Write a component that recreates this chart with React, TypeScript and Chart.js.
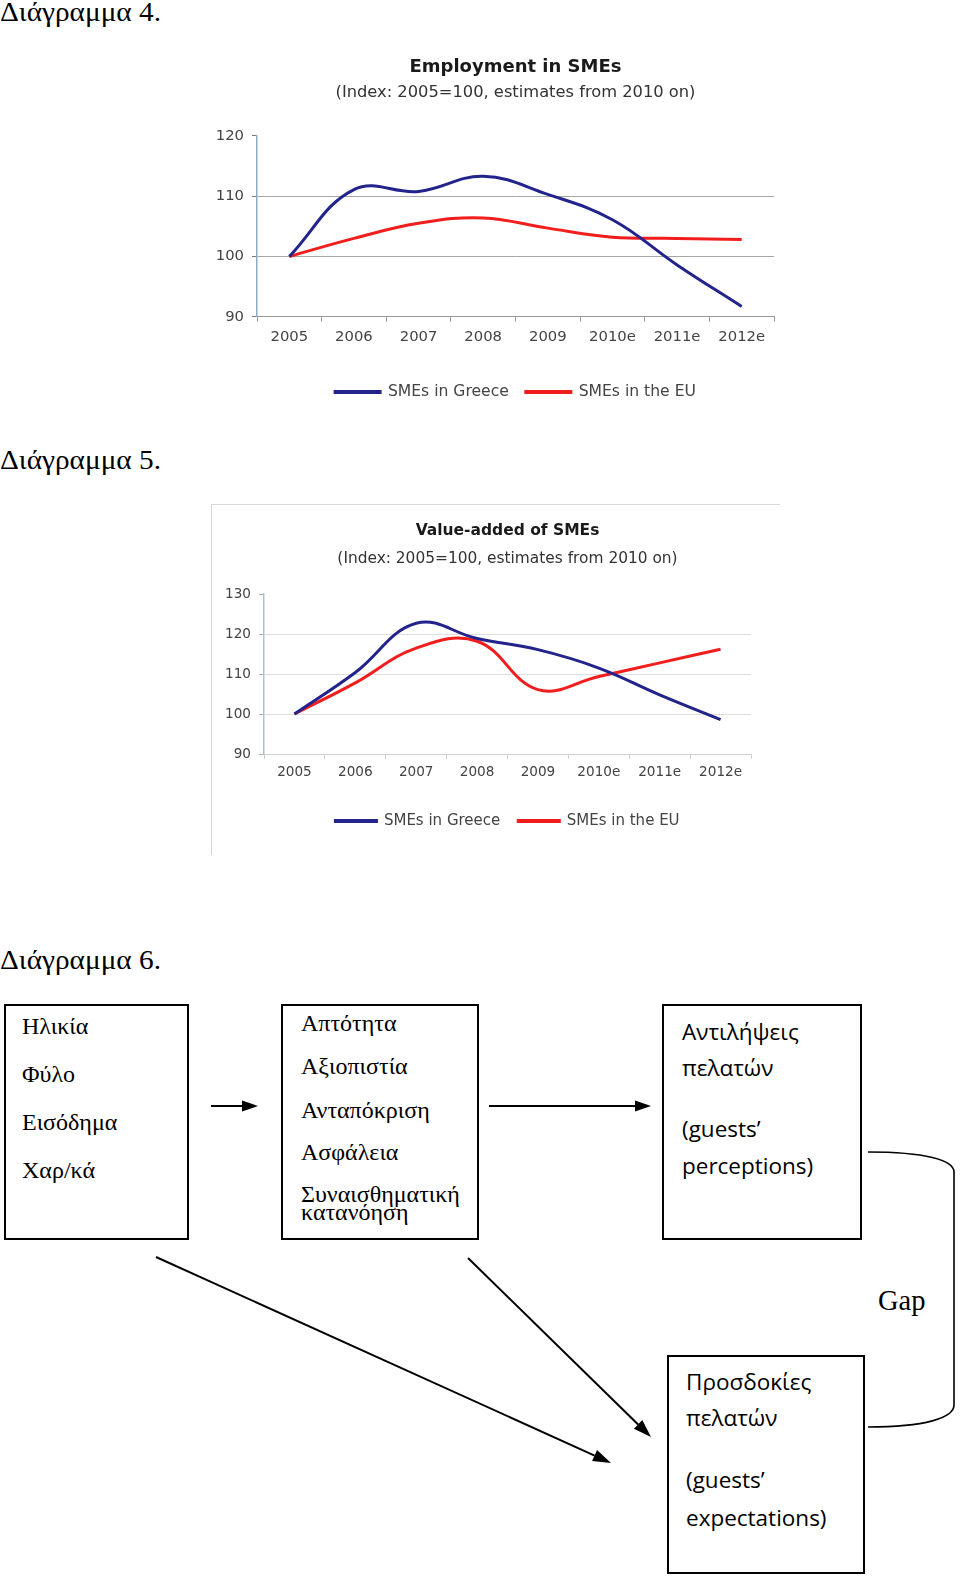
import React, { useEffect, useRef } from 'react';
import { Chart, registerables } from 'chart.js';
Chart.register(...registerables);

// ---------- data ----------
const years = ['2005', '2006', '2007', '2008', '2009', '2010e', '2011e', '2012e'];
const employmentGreece = [100, 111.1, 110.8, 113.3, 110.3, 106.1, 98.6, 91.7];
const employmentEU = [100, 103.0, 105.5, 106.4, 104.7, 103.2, 103.0, 102.8];
const valueAddedGreece = [100, 110.4, 122.7, 118.9, 116.1, 111.5, 104.8, 98.6];
const valueAddedEU = [100, 107.8, 116.5, 118.2, 106.1, 109.4, 112.8, 116.2];
const seriesNames = ['SMEs in Greece', 'SMEs in the EU'];
const subtitleText = '(Index: 2005=100, estimates from 2010 on)';

const SANS = "'DejaVu Sans', 'Liberation Sans', Arial, sans-serif";
const SERIF = "'Liberation Serif', 'Times New Roman', serif";
const CALIBRI = "'Open Sans', 'Noto Sans', sans-serif";
const BLUE = '#23238c';
const RED = '#f21d1d';

type ChartSpec = {
  left: number; top: number; width: number; height: number;
  title: string; greece: number[]; eu: number[];
  min: number; max: number;
  yWidth: number; xHeight: number;
  pad: { left: number; right: number; top: number; bottom: number };
  titleFont: number; titlePad: { top: number; bottom: number };
  subFont: number; subPad: { top: number; bottom: number };
  tickFont: number; legendFont: number; legendPad: number; swatch: number;
  xTickPad: number; yTickPad: number;
  gridColor: string; axisColor: string; xBorderColor: string; tickMarkColor: string;
};

function SmeChart({ spec }: { spec: ChartSpec }) {
  const ref = useRef<HTMLCanvasElement>(null);
  useEffect(() => {
    if (!ref.current) return;
    const s = spec;
    const chart = new Chart(ref.current, {
      type: 'line',
      data: {
        labels: years,
        datasets: [
          { label: seriesNames[0], data: s.greece, borderColor: BLUE, backgroundColor: BLUE, borderWidth: 3, pointRadius: 0, tension: 0.4 },
          { label: seriesNames[1], data: s.eu, borderColor: RED, backgroundColor: RED, borderWidth: 3, pointRadius: 0, tension: 0.4 },
        ],
      },
      options: {
        responsive: false,
        animation: false,
        devicePixelRatio: 1,
        layout: { padding: s.pad },
        plugins: {
          title: {
            display: true, text: s.title, fullSize: false, color: '#1a1a1a',
            font: { family: SANS, size: s.titleFont, weight: 'bold' },
            padding: s.titlePad,
          },
          subtitle: {
            display: true, text: subtitleText, fullSize: false, color: '#333',
            font: { family: SANS, size: s.subFont },
            padding: s.subPad,
          },
          legend: {
            position: 'bottom', fullSize: false,
            labels: {
              boxWidth: s.swatch, boxHeight: 1, padding: s.legendPad, color: '#444',
              font: { family: SANS, size: s.legendFont },
            },
          },
          tooltip: { enabled: false },
        },
        scales: {
          x: {
            offset: true,
            grid: { offset: true, drawOnChartArea: false, drawTicks: true, tickLength: 5, color: s.xBorderColor },
            border: { display: true, color: s.xBorderColor, width: 1 },
            ticks: { color: '#444', padding: s.xTickPad, font: { family: SANS, size: s.tickFont }, maxRotation: 0, autoSkip: false },
            afterFit: (sc: any) => { sc.height = s.xHeight; },
          },
          y: {
            min: s.min, max: s.max,
            ticks: { stepSize: 10, color: '#444', padding: s.yTickPad, font: { family: SANS, size: s.tickFont } },
            grid: {
              color: (c: any) => (c.tick && (c.tick.value === s.max || c.tick.value === s.min)) ? 'rgba(0,0,0,0)' : s.gridColor,
              tickColor: s.tickMarkColor, tickLength: 5, lineWidth: 1,
            },
            border: { display: true, color: s.axisColor, width: 1.5 },
            afterFit: (sc: any) => { sc.width = s.yWidth; },
          },
        },
      },
    } as any);
    return () => chart.destroy();
  }, [spec]);
  return (
    <canvas
      ref={ref}
      width={spec.width}
      height={spec.height}
      style={{ position: 'absolute', left: spec.left, top: spec.top, width: spec.width, height: spec.height }}
    />
  );
}

const chart1: ChartSpec = {
  left: 200, top: 40, width: 590, height: 370,
  title: 'Employment in SMEs', greece: employmentGreece, eu: employmentEU,
  min: 90, max: 120, yWidth: 57, xHeight: 50.5,
  pad: { left: 0, right: 16, top: 0, bottom: 0.2 },
  titleFont: 18, titlePad: { top: 16.7, bottom: 0 },
  subFont: 16.3, subPad: { top: 4.4, bottom: 33.7 },
  tickFont: 14.8, legendFont: 15.6, legendPad: 17, swatch: 45,
  xTickPad: 7, yTickPad: 8,
  gridColor: '#a6a6a6', axisColor: '#8eaacb', xBorderColor: '#9a9a9a', tickMarkColor: '#7a7a7a',
};

const chart2: ChartSpec = {
  left: 211, top: 505, width: 569, height: 350,
  title: 'Value-added of SMEs', greece: valueAddedGreece, eu: valueAddedEU,
  min: 90, max: 130, yWidth: 53, xHeight: 41.5,
  pad: { left: 0, right: 29, top: 0, bottom: 16.5 },
  titleFont: 15.5, titlePad: { top: 16.7, bottom: 0 },
  subFont: 15.4, subPad: { top: 9.5, bottom: 25.8 },
  tickFont: 13.6, legendFont: 15, legendPad: 18, swatch: 41,
  xTickPad: 5.5, yTickPad: 8,
  gridColor: '#dedede', axisColor: '#a9c1da', xBorderColor: '#cfcfcf', tickMarkColor: '#b0b0b0',
};

function Arrow({ x1, y1, x2, y2, head = 16, half = 5.5 }: { x1: number; y1: number; x2: number; y2: number; head?: number; half?: number }) {
  const a = Math.atan2(y2 - y1, x2 - x1);
  const bx = x2 - head * Math.cos(a);
  const by = y2 - head * Math.sin(a);
  const px = -Math.sin(a) * half;
  const py = Math.cos(a) * half;
  return (
    <g>
      <line x1={x1} y1={y1} x2={bx} y2={by} stroke="#000" strokeWidth={2} />
      <polygon points={`${x2},${y2} ${bx + px},${by + py} ${bx - px},${by - py}`} fill="#000" />
    </g>
  );
}

function T({ x, y, size, family, len, children }: { x: number; y: number; size: number; family: string; len?: number; children: React.ReactNode }) {
  const extra: any = len ? { textLength: len, lengthAdjust: 'spacingAndGlyphs' } : {};
  return (
    <text x={x} y={y} fontSize={size} fontFamily={family} dominantBaseline="central" fill="#000" {...extra}>{children}</text>
  );
}

export default function App() {
  return (
    <div style={{ position: 'absolute', left: 0, top: 0, width: 960, height: 1577, background: '#fff', overflow: 'hidden' }}>
      <svg width={960} height={1577} style={{ position: 'absolute', left: 0, top: 0 }}>
        <T x={0} y={12} size={27} family={SERIF} len={161}>Διάγραμμα  4.</T>
        <T x={0} y={460} size={27} family={SERIF} len={161}>Διάγραμμα  5.</T>
        <T x={0} y={960} size={27} family={SERIF} len={161}>Διάγραμμα  6.</T>

        {/* chart 2 frame */}
        <line x1={211} y1={504.5} x2={780} y2={504.5} stroke="#d6d6d6" strokeWidth={1} />
        <line x1={211.5} y1={504.5} x2={211.5} y2={855} stroke="#d6d6d6" strokeWidth={1} />

        {/* boxes */}
        <rect x={5} y={1005} width={183} height={234} fill="none" stroke="#000" strokeWidth={2} />
        <rect x={282} y={1005} width={196} height={234} fill="none" stroke="#000" strokeWidth={2} />
        <rect x={663} y={1005} width={198} height={234} fill="none" stroke="#000" strokeWidth={2} />
        <rect x={668} y={1356} width={196} height={217} fill="none" stroke="#000" strokeWidth={2} />

        {/* box 1 text */}
        <T x={22} y={1026} size={24} family={SERIF}>Ηλικία</T>
        <T x={22} y={1074} size={24} family={SERIF}>Φύλο</T>
        <T x={22} y={1122} size={24} family={SERIF}>Εισόδημα</T>
        <T x={22} y={1170} size={24} family={SERIF}>Χαρ/κά</T>

        {/* box 2 text */}
        <T x={301} y={1023} size={24} family={SERIF}>Απτότητα</T>
        <T x={301} y={1066} size={24} family={SERIF}>Αξιοπιστία</T>
        <T x={301} y={1110} size={24} family={SERIF}>Ανταπόκριση</T>
        <T x={301} y={1152} size={24} family={SERIF}>Ασφάλεια</T>
        <T x={301} y={1194} size={24} family={SERIF}>Συναισθηματική</T>
        <T x={301} y={1212} size={24} family={SERIF}>κατανόηση</T>

        {/* box 3 text */}
        <T x={682} y={1031} size={22.5} family={CALIBRI}>Αντιλήψεις</T>
        <T x={682} y={1067} size={22.5} family={CALIBRI}>πελατών</T>
        <T x={682} y={1128} size={22.5} family={CALIBRI}>(guests’</T>
        <T x={682} y={1165} size={22.5} family={CALIBRI}>perceptions)</T>

        {/* box 4 text */}
        <T x={686} y={1381} size={22.5} family={CALIBRI}>Προσδοκίες</T>
        <T x={686} y={1417} size={22.5} family={CALIBRI}>πελατών</T>
        <T x={686} y={1479} size={22.5} family={CALIBRI}>(guests’</T>
        <T x={686} y={1517} size={22.5} family={CALIBRI}>expectations)</T>

        {/* arrows */}
        <Arrow x1={211} y1={1106} x2={258} y2={1106} />
        <Arrow x1={489} y1={1106} x2={651} y2={1106} />
        <Arrow x1={156} y1={1257} x2={611} y2={1463} head={18} half={6} />
        <Arrow x1={468} y1={1258} x2={651} y2={1437} head={18} half={6} />

        {/* gap bracket */}
        <path d="M868 1152 C 925 1152, 954 1160, 954 1172 L 954 1405 C 954 1418, 925 1427, 868 1427" fill="none" stroke="#000" strokeWidth={1.6} />
        <T x={878} y={1300} size={28.5} family={SERIF}>Gap</T>
      </svg>
      <SmeChart spec={chart1} />
      <SmeChart spec={chart2} />
    </div>
  );
}
